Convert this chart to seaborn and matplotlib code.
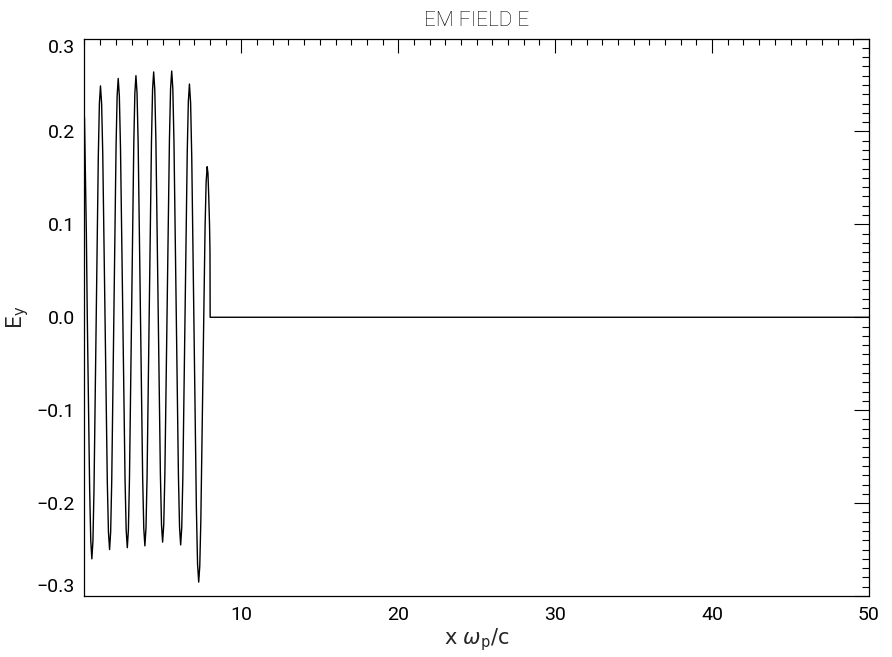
import seaborn as sns
import matplotlib.pyplot as plt
import matplotlib.ticker as mticker
import pandas as pd

# values (E_y vs x w_p/c)
x_pos = [0.00, 0.12, 0.18, 0.33, 0.40,
         0.47, 0.539, 0.6075, 0.745, 0.8825, 0.951,
         1.02, 1.0925, 1.165, 1.31, 1.455, 1.5275,
         1.60, 1.669, 1.7375, 1.875, 2.0125, 2.081,
         2.15, 2.2225, 2.295, 2.44, 2.585, 2.6575,
         2.73, 2.799, 2.8675, 3.005, 3.1425, 3.211,
         3.28, 3.351, 3.4225, 3.565, 3.7075, 3.779,
         3.85, 3.92, 3.99, 4.13, 4.27, 4.34,
         4.41, 4.481, 4.5525, 4.695, 4.8375, 4.909,
         4.98, 5.0525, 5.125, 5.27, 5.415, 5.4875,
         5.56, 5.631, 5.7025, 5.845, 5.9875, 6.059,
         6.13, 6.20, 6.27, 6.41, 6.55, 6.62,
         6.69, 6.764, 6.8375, 6.985, 7.1325, 7.206,
         7.28, 7.3475, 7.415, 7.55, 7.685, 7.7525,
         7.82, 7.87, 7.92, 7.97, 8.00, 8.01,
         50.0]
e_y = [0.215, 0.09, 0.0, -0.185, -0.240,
       -0.260, -0.241, -0.185, -0.005, 0.174, 0.230,
       0.249, 0.230, 0.176, 0.0, -0.177, -0.231,
       -0.250, -0.231, -0.176, 0.004, 0.183, 0.238,
       0.257, 0.238, 0.183, 0.005, -0.174, -0.229,
       -0.248, -0.229, -0.174, 0.006, 0.186, 0.241,
       0.260, 0.241, 0.186, 0.007, -0.172, -0.227,
       -0.246, -0.227, -0.171, 0.009, 0.189, 0.245,
       0.264, 0.245, 0.190, 0.011, -0.168, -0.223,
       -0.242, -0.223, -0.168, 0.012, 0.191, 0.246,
       0.265, 0.246, 0.190, 0.010, -0.170, -0.226,
       -0.245, -0.226, -0.172, 0.003, 0.178, 0.232,
       0.251, 0.231, 0.172, -0.017, -0.206, -0.265,
       -0.285, -0.268, -0.220, -0.062, 0.096, 0.145,
       0.162, 0.155, 0.130, 0.100, 0.070, 0.0,
       0.0]

x_ticks = [10, 20, 30, 40, 50]
y_ticks = [-0.3, -0.2, -0.1, 0.0, 0.1, 0.2, 0.3]

df = pd.DataFrame({'x': x_pos, 'Ey': e_y})

sns.set_style("white")
plt.rcParams['font.family'] = ['Roboto', 'DejaVu Sans']
plt.rcParams['text.color'] = 'black'
plt.rcParams['xtick.color'] = 'black'
plt.rcParams['ytick.color'] = 'black'

fig = plt.figure(figsize=(8.92, 6.57), dpi=100)
ax = fig.add_axes([0.0947, 0.0928, 0.8795, 0.8486])

sns.lineplot(data=df, x='x', y='Ey', sort=False, color='black', linewidth=1.0, ax=ax)

ax.set_xlim(0, 50)
ax.set_ylim(-0.3, 0.3)
ax.set_xticks(x_ticks)
ax.set_yticks(y_ticks)
ax.xaxis.set_minor_locator(mticker.MultipleLocator(1))
ax.yaxis.set_minor_locator(mticker.MultipleLocator(0.01))
ax.yaxis.set_major_formatter(mticker.FuncFormatter(lambda v, p: ('%.1f' % v).replace('-', '\u2212')))

ax.tick_params(which='both', direction='in', top=True, right=True,
               color='black', width=0.8, labelsize=14, pad=7)
ax.tick_params(axis='x', which='major', length=10)
ax.tick_params(axis='x', which='minor', length=4.2)
ax.tick_params(axis='y', which='major', length=11)
ax.tick_params(axis='y', which='minor', length=5)

for lab in ax.get_xticklabels() + ax.get_yticklabels():
    lab.set_color('black')

for sp in ax.spines.values():
    sp.set_color('black')
    sp.set_linewidth(0.9)

# keep the end labels inside the frame like the original
ylabs = ax.get_yticklabels()
ylabs[0].set_va('bottom')
ylabs[-1].set_va('top')

ax.set_title('EM FIELD E', fontsize=15, pad=9, color='black', fontweight='light')
ax.set_xlabel(r'x $\omega_{\rm p}$/c', fontsize=15, family='DejaVu Sans', labelpad=2)
ax.set_ylabel(r'E$_{\rm y}$', fontsize=15, family='DejaVu Sans', labelpad=4)

plt.savefig('out.png', dpi=100)
plt.close('all')
